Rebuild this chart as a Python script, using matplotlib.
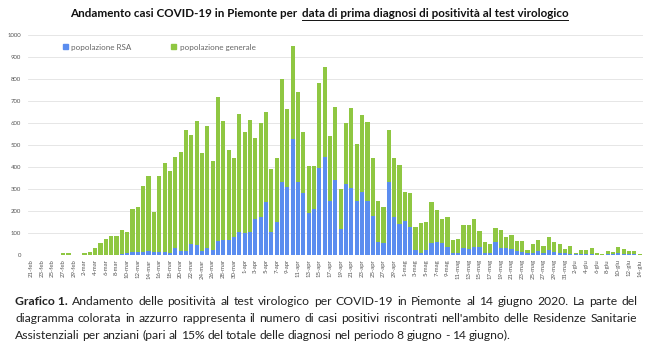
import numpy as np
import pandas as pd
import matplotlib
matplotlib.use("Agg")
import matplotlib.pyplot as plt
from matplotlib.patches import Patch
from matplotlib.lines import Line2D

plt.rcParams['font.family'] = ['Lato', 'DejaVu Sans']

# casi giornalieri dal 21 febbraio al 14 giugno 2020
rsa = [0, 0, 0, 0, 0, 0, 0, 0, 0,
       0, 0, 0, 0, 0, 0, 0, 0, 5, 7, 12, 12, 12, 20, 12, 12, 12, 8, 30, 18,
       20, 48, 45, 20, 32, 23, 62, 68, 70, 80, 106,
       98, 106, 162, 171, 242, 106, 148, 333, 308, 527, 333, 280, 192, 209, 397,
       447, 245, 341, 118, 323, 303, 247, 285, 247, 177, 61, 53, 333, 171, 141,
       155, 129, 23, 11, 23, 56, 58, 53, 38, 8, 8, 33, 26, 38, 38, 11, 11, 58,
       33, 30, 26, 18, 15, 8, 8, 18, 11, 23, 15, 11, 8,
       5, 3, 5, 3, 5, 2, 1, 3, 3, 8, 5, 3, 3, 0]
generale = [0, 0, 0, 0, 0, 0, 8, 9, 2,
            1, 8, 15, 30, 55, 72, 85, 86, 110, 98, 198, 206, 303, 338, 183, 345,
            408, 374, 417, 448, 546, 496, 565, 445, 555, 403, 654, 540, 407, 362, 533,
            460, 508, 368, 431, 410, 285, 294, 467, 356, 424, 409, 281, 213, 196, 386,
            406, 297, 330, 180, 275, 364, 256, 351, 359, 265, 186, 167, 235, 268, 268,
            133, 154, 106, 136, 125, 186, 145, 112, 136, 62, 63, 103, 110, 125, 73,
            49, 41, 64, 81, 50, 65, 47, 49, 15, 40, 48, 32, 57, 45, 39, 19,
            37, 8, 18, 20, 25, 6, 2, 15, 9, 30, 22, 15, 17, 3]

mesi = {2: 'feb', 3: 'mar', 4: 'apr', 5: 'mag', 6: 'giu'}
date = pd.date_range('2020-02-21', '2020-06-14')
etichette = [f"{d.day}-{mesi[d.month]}" for d in date]

blu = '#5b8def'
verde = '#8fc742'

fig = plt.figure(figsize=(6.5, 3.54), dpi=100)
ax = fig.add_axes([0.043, 0.2797, 0.946, 0.6215])

x = np.arange(len(date))
ax.bar(x, rsa, width=0.78, color=blu, zorder=3)
ax.bar(x, generale, width=0.78, bottom=rsa, color=verde, zorder=3)

ax.set_xlim(-0.6, len(date) - 0.4)
ax.set_ylim(0, 1000)
ax.set_yticks(range(0, 1001, 100))
ax.tick_params(axis='y', labelsize=4.3, colors='#555555', length=0, pad=5)
ax.set_xticks(x[::2])
ax.set_xticklabels(etichette[::2], rotation=90, fontsize=4.3, color='#555555')
ax.tick_params(axis='x', length=0, pad=3)
ax.grid(axis='y', color='#e2e2e2', linewidth=0.6, zorder=0)
for s in ax.spines.values():
    s.set_visible(False)

ax.legend(handles=[Patch(color=blu), Patch(color=verde)],
          labels=['popolazione RSA', 'popolazione generale'],
          loc='center left', bbox_to_anchor=(0.045, 0.945), ncol=2,
          frameon=False, fontsize=5.8, labelcolor='#666666',
          handlelength=0.6, handleheight=0.6, handletextpad=0.4,
          columnspacing=5.0)

# titolo con parte sottolineata
fig.canvas.draw()
r = fig.canvas.get_renderer()
W, H = fig.bbox.width, fig.bbox.height
p1 = 'Andamento casi COVID-19 in Piemonte per '
p2 = 'data di prima diagnosi di positività al test virologico'
ty = 1 - 17 / 354
t1 = fig.text(0, ty, p1, fontsize=8.4, weight='bold', color='#111111', va='baseline')
t2 = fig.text(0, ty, p2, fontsize=8.4, weight='bold', color='#111111', va='baseline')
w1 = t1.get_window_extent(r).width
w2 = t2.get_window_extent(r).width
x0 = (318 - (w1 + w2) / 2)
t1.set_x(x0 / W)
t2.set_x((x0 + w1 + 2) / W)
uy = ty - 2.5 / H
fig.add_artist(Line2D([(x0 + w1 + 2) / W, (x0 + w1 + 2 + w2) / W], [uy, uy],
                      transform=fig.transFigure, color='#111111', linewidth=0.7))

# didascalia giustificata
righe = [
    [('Grafico 1.', 'bold')] + [(w, 'normal') for w in 'Andamento delle positività al test virologico per COVID-19 in Piemonte al 14 giugno 2020. La parte del'.split()],
    [(w, 'normal') for w in "diagramma colorata in azzurro rappresenta il numero di casi positivi riscontrati nell'ambito delle Residenze Sanitarie".split()],
    [(w, 'normal') for w in 'Assistenziali per anziani (pari al 15% del totale delle diagnosi nel periodo 8 giugno - 14 giugno).'.split()],
]
xl, xr = 15, 637
cy = [305, 322, 339]
fs = 8.7
for i, riga in enumerate(righe):
    testi = []
    for w, peso in riga:
        t = fig.text(0, 1 - cy[i] / H, w, fontsize=fs, weight=peso, color='#222222', va='baseline')
        testi.append(t)
    larg = [t.get_window_extent(r).width for t in testi]
    if i < 2:
        gap = (xr - xl - sum(larg)) / (len(testi) - 1)
    else:
        gap = fs * 0.32
    xc = xl
    for t, lw in zip(testi, larg):
        t.set_x(xc / W)
        xc += lw + gap

fig.savefig('out.png', dpi=100)
